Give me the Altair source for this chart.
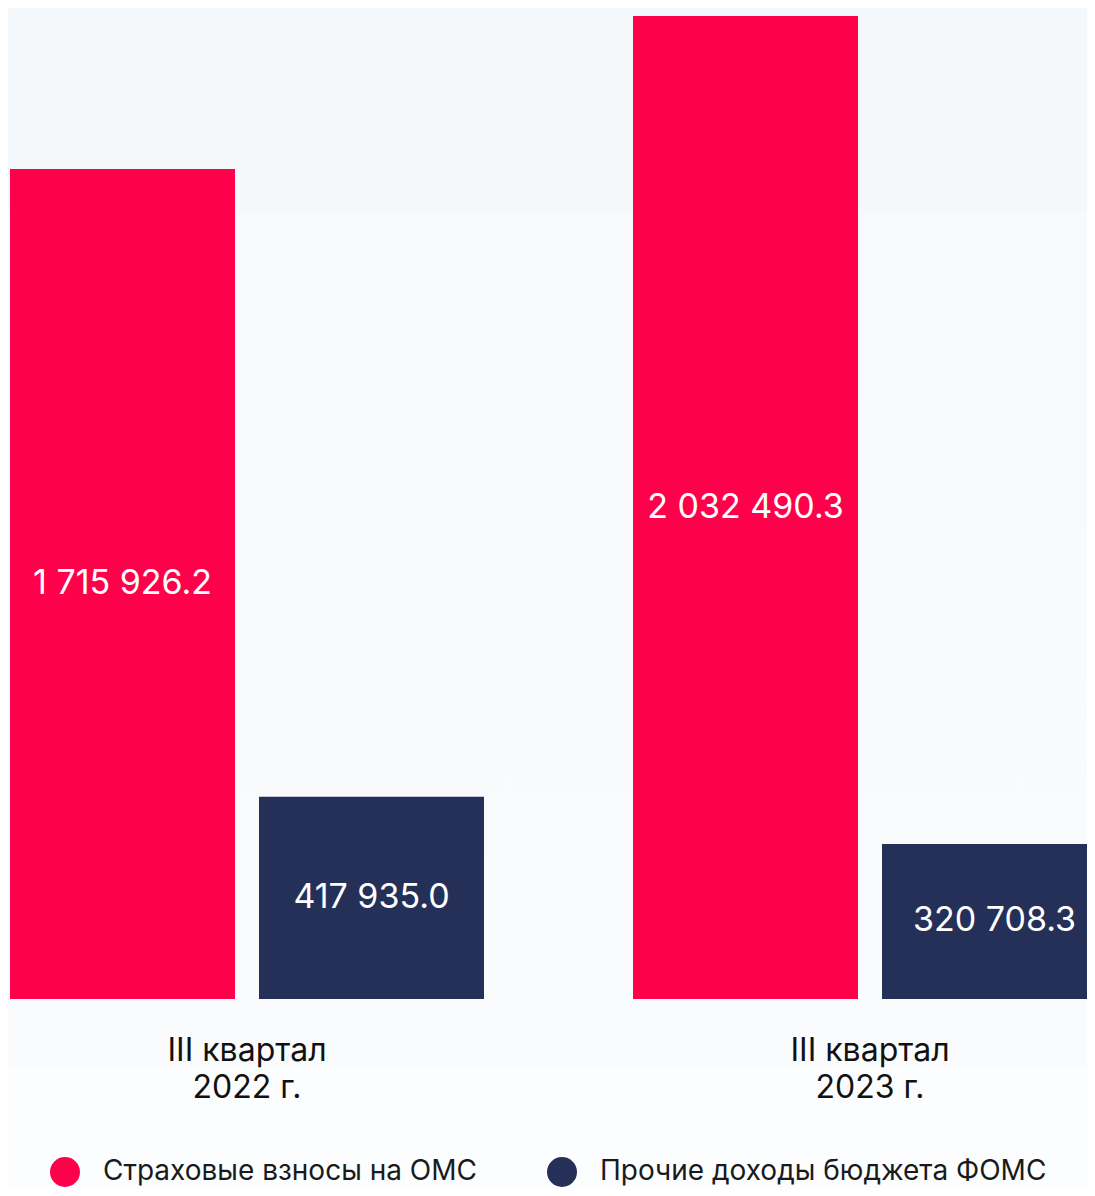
import altair as alt
import pandas as pd

groups = ["III квартал\n\u20022022 г.", "III квартал\n\u20022023 г."]
series = ["Страховые взносы на ОМС", "Прочие доходы бюджета ФОМС"]
values_2022 = [1715926.2, 417935.0]
values_2023 = [2032490.3, 320708.3]
colors = ["#ff004a", "#253059"]

rows = []
for g, vals in zip(groups, [values_2022, values_2023]):
    for s, v in zip(series, vals):
        rows.append({"group": g, "series": s, "value": v,
                     "label": f"{v:,.1f}".replace(",", " ")})
df = pd.DataFrame(rows)

ymax = max(values_2022 + values_2023)
FONT = "Inter"

x_enc = alt.X("group:N", sort=groups,
              scale=alt.Scale(paddingInner=149 / 623, paddingOuter=0, range=[0, 1097]),
              axis=alt.Axis(title=None, labelAngle=0, ticks=False, domain=False,
                            labelFontSize=32, labelFont=FONT, labelColor="#111111",
                            labelPadding=36, labelLineHeight=37, zindex=1,
                            labelExpr="split(datum.label, '\\n')"))
xo_enc = alt.XOffset("series:N", sort=series,
                     scale=alt.Scale(paddingInner=24 / 249, paddingOuter=0))
y_scale = alt.Scale(domain=[0, ymax], nice=False, zero=True)

bg = alt.Chart(pd.DataFrame({"k": [0]})).mark_rect(
    color=alt.LinearGradient(
        gradient="linear", x1=0, y1=0, x2=0, y2=1,
        stops=[alt.GradientStop(offset=0, color="#f5f8fb"),
               alt.GradientStop(offset=0.191, color="#f5f8fb"),
               alt.GradientStop(offset=0.192, color="#f8f9fc"),
               alt.GradientStop(offset=1, color="#fafbfd")])
).encode(x=alt.value(-2), x2=alt.value(1077), y=alt.value(-8), y2=alt.value(1050))

bars = alt.Chart(df).mark_bar(clip=True).encode(
    x=x_enc,
    xOffset=xo_enc,
    y=alt.Y("value:Q", scale=y_scale, axis=None),
    color=alt.Color("series:N", sort=series,
                    scale=alt.Scale(domain=series, range=colors),
                    legend=alt.Legend(title=None, orient="none", legendX=40, legendY=1141,
                                      direction="horizontal", symbolType="circle",
                                      symbolSize=900, symbolStrokeWidth=0,
                                      labelFontSize=28, labelFont=FONT,
                                      labelColor="#1a1a1a", labelOffset=23,
                                      columnPadding=70, labelLimit=600)),
)

labels = alt.Chart(df).transform_calculate(mid="datum.value / 2").mark_text(
    color="white", fontSize=34, font=FONT, baseline="middle", align="center"
).encode(
    x=x_enc,
    xOffset=xo_enc,
    y=alt.Y("mid:Q", scale=y_scale, axis=None),
    text="label:N",
)

chart = alt.layer(bg, bars, labels).properties(
    width=1077, height=983,
    padding={"left": 2, "top": 8, "right": 0, "bottom": 189},
    background="#fcfdfe",
    autosize=alt.AutoSizeParams(type="none"),
).configure_view(
    strokeWidth=0,
)

chart.save("out.html", embed_options={"renderer": "svg", "actions": False})
